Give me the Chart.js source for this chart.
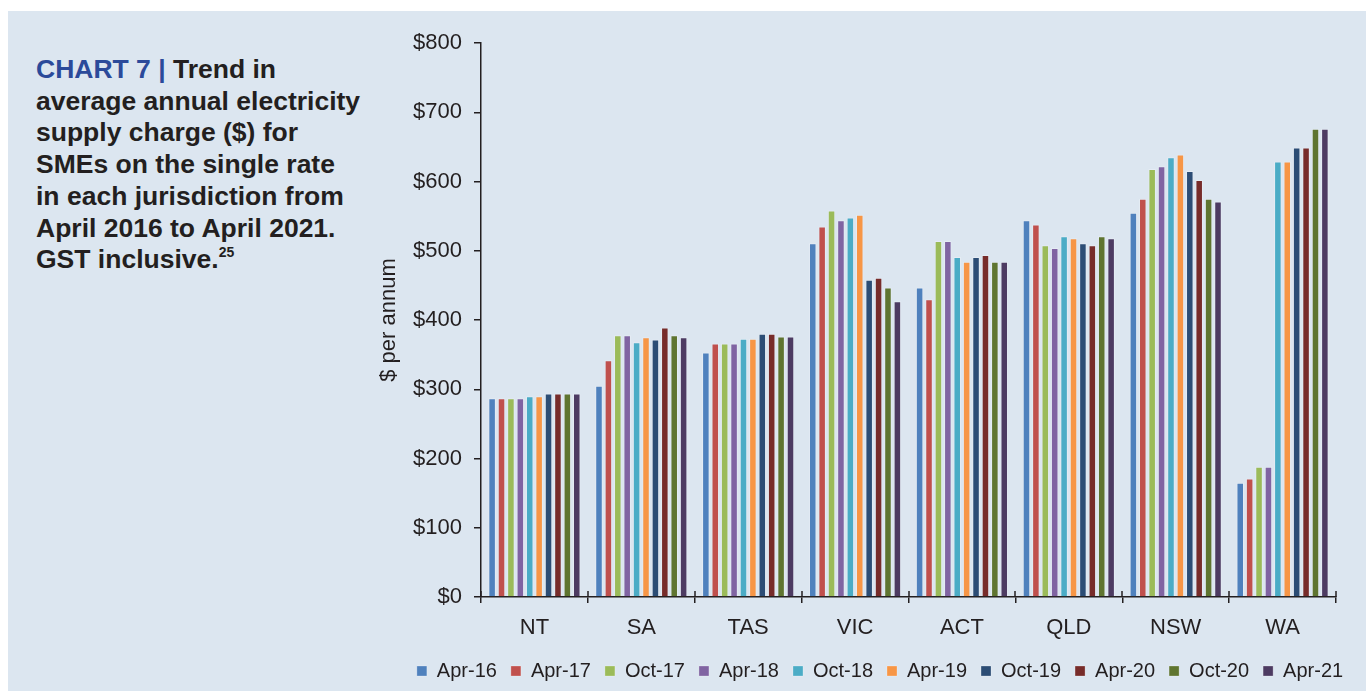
<!DOCTYPE html>
<html>
<head>
<meta charset="utf-8">
<script src="https://cdn.jsdelivr.net/npm/chart.js@4"></script>
<style>
  html, body { margin: 0; padding: 0; background: #fff; overflow: hidden; width: 1366px; height: 691px; }
  #panel { position: absolute; left: 8px; top: 11px; width: 1358px; height: 680px; background: #dce6f0; }
  #title { position: absolute; left: 36px; top: 54px; font: bold 26.5px "Liberation Sans", Arial, sans-serif; line-height: 31.7px; color: #231f20; }
  #title .blue { color: #2b4a9a; }
  #title sup { font-size: 14px; vertical-align: 11px; line-height: 0; }
  #wrap { position: absolute; left: 376px; top: 11px; width: 1008px; height: 680px; }
</style>
</head>
<body>
<div id="panel"></div>
<div id="title"><span class="blue">CHART 7 |</span> Trend in<br>average annual electricity<br>supply charge ($) for<br>SMEs on the single rate<br>in each jurisdiction from<br>April 2016 to April 2021.<br>GST inclusive.<sup>25</sup></div>
<div id="wrap"><canvas id="chart"></canvas></div>
<script>
const states = ['NT', 'SA', 'TAS', 'VIC', 'ACT', 'QLD', 'NSW', 'WA'];
const periods = ['Apr-16', 'Apr-17', 'Oct-17', 'Apr-18', 'Oct-18', 'Apr-19', 'Oct-19', 'Apr-20', 'Oct-20', 'Apr-21'];
const yTicks = [0, 100, 200, 300, 400, 500, 600, 700, 800];

const apr16 = [287, 305, 353, 511, 447, 544, 555, 165];
const apr17 = [287, 342, 366, 535, 430, 538, 575, 171];
const oct17 = [287, 378, 366, 558, 514, 508, 618, 188];
const apr18 = [287, 378, 366, 544, 514, 504, 622, 188];
const oct18 = [290, 368, 373, 548, 491, 521, 635, 629];
const apr19 = [290, 375, 373, 552, 484, 518, 639, 629];
const oct19 = [294, 372, 380, 458, 491, 511, 615, 649];
const apr20 = [294, 389, 380, 461, 494, 508, 602, 649];
const oct20 = [294, 378, 376, 447, 484, 521, 575, 676];
const apr21 = [294, 375, 376, 427, 484, 518, 571, 676];

const series = [apr16, apr17, oct17, apr18, oct18, apr19, oct19, apr20, oct20, apr21];
const colors = ['#4f81bd', '#c0504d', '#9bbb59', '#8064a2', '#4bacc6', '#f79646', '#2c4d75', '#772c2a', '#5f7530', '#4d3b62'];

const ink = '#231f20';
const font = '"Liberation Sans", Arial, sans-serif';

// little tick marks above the x axis, so they cross the line like the original
const crossTicks = {
    id: 'crossTicks',
    afterDraw(chart) {
        const x = chart.scales.x;
        const c = chart.ctx;
        c.save();
        c.strokeStyle = ink;
        c.lineWidth = 1.5;
        c.beginPath();
        for (let i = 0; i <= states.length; i++) {
            const px = Math.round(x.getPixelForValue(i - 0.5));
            c.moveTo(px, x.top - 6);
            c.lineTo(px, x.top);
        }
        c.stroke();
        c.restore();
    }
};

const ctx = document.getElementById('chart').getContext('2d');

const chart = new Chart(ctx, {
    type: 'bar',
    data: {
        labels: states,
        datasets: periods.map((p, i) => ({
            label: p,
            data: series[i],
            backgroundColor: colors[i],
            borderColor: 'rgba(255,255,255,0.25)',
            borderWidth: 1,
            categoryPercentage: 0.88,
            barPercentage: 0.8
        }))
    },
    options: {
        responsive: true,
        maintainAspectRatio: false,
        animation: false,
        layout: { padding: { top: 32, bottom: 0, left: 0, right: 0 } },
        plugins: {
            tooltip: { enabled: false },
            legend: {
                position: 'bottom',
                labels: {
                    color: ink,
                    font: { family: font, size: 20 },
                    boxWidth: 10,
                    boxHeight: 10,
                    padding: 14
                }
            }
        },
        scales: {
            x: {
                grid: { offset: true, drawOnChartArea: false, color: ink, lineWidth: 1.5, tickLength: 6 },
                border: { color: ink, width: 1.5 },
                ticks: { color: ink, font: { family: font, size: 22 }, padding: 12 },
                afterFit: s => { s.height = 50; }
            },
            y: {
                min: 0,
                max: 800,
                afterBuildTicks: s => { s.ticks = yTicks.map(v => ({ value: v })); },
                grid: { drawOnChartArea: false, color: ink, lineWidth: 1.5, tickLength: 7 },
                border: { color: ink, width: 1.5 },
                ticks: {
                    color: ink,
                    font: { family: font, size: 22 },
                    padding: 12,
                    callback: v => '$' + v
                },
                title: {
                    display: true,
                    text: '$ per annum',
                    color: ink,
                    font: { family: font, size: 22 },
                    padding: 0
                },
                afterFit: s => { s.width = 105; }
            },
            y2: {
                position: 'right',
                display: true,
                grid: { display: false },
                border: { display: false },
                ticks: { display: false },
                afterFit: s => { s.width = 48; }
            }
        }
    },
    plugins: [crossTicks]
});
</script>
</body>
</html>
